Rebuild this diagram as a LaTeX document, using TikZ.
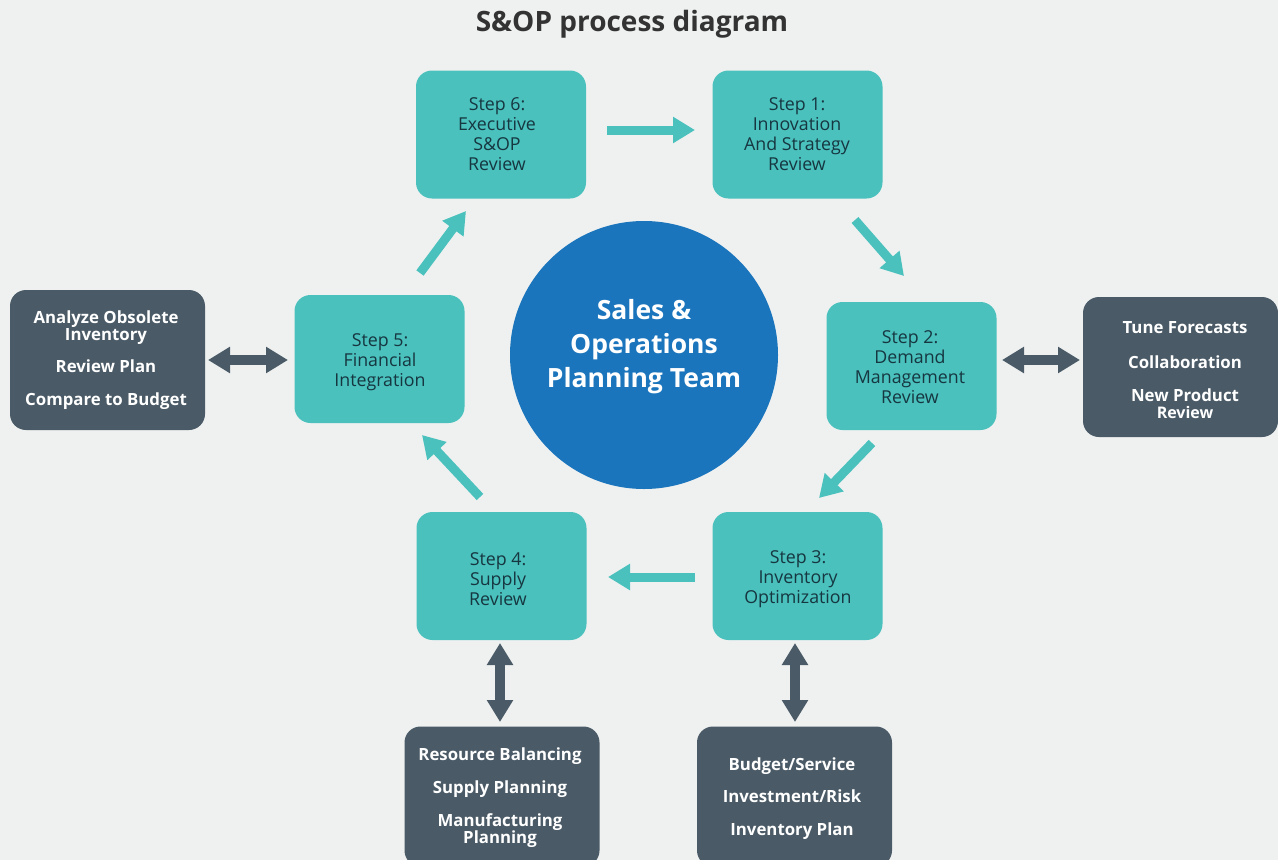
\documentclass[tikz,border=0pt]{standalone}
\usepackage{fontspec}
\setmainfont{Open Sans}
\usetikzlibrary{arrows.meta}
\definecolor{bg}{HTML}{EFF1F1}
\definecolor{teal}{HTML}{4AC1BD}
\definecolor{dark}{HTML}{4A5A66}
\definecolor{blue}{HTML}{1B75BC}
\definecolor{tx}{HTML}{163640}
\definecolor{ttl}{HTML}{333333}
\tikzset{
  stepbox/.style={fill=teal, rounded corners=16pt, minimum width=170pt, minimum height=128pt, inner sep=0pt},
  steptext/.style={text=tx, align=center, inner sep=0pt, font=\fontsize{17.8}{20}\selectfont},
  infobox/.style={fill=dark, rounded corners=16pt, minimum width=195pt, minimum height=140pt, inner sep=0pt},
  infotext/.style={text=white, align=center, inner sep=0pt, font=\bfseries\fontsize{16.8}{17}\selectfont},
  flow/.style={draw=teal, line width=9pt, -{Triangle[length=22pt,width=25pt]}},
  link/.style={draw=dark, line width=10pt, {Triangle[length=22pt,width=25pt]}-{Triangle[length=22pt,width=25pt]}}
}
\begin{document}
\begin{tikzpicture}[x=1pt,y=-1pt]
\fill[bg] (0,0) rectangle (1278,860);
\useasboundingbox (0,0) rectangle (1278,860);
\node[font=\bfseries\fontsize{28}{30}\selectfont, text=ttl] (title) at (632,24) {S\&OP process diagram};
\node[circle, fill=blue, minimum size=268pt, inner sep=0pt] (team) at (644,355) {};
\node[text=white, align=center, inner sep=0pt, font=\bfseries\fontsize{26.5}{34}\selectfont] (teamtxt) at (644,347) {Sales \&\\Operations\\Planning Team};
% step boxes
\node[stepbox] (s6) at (501,134.5) {};
\node[stepbox] (s1) at (797.5,134.5) {};
\node[stepbox] (s2) at (911.5,366) {};
\node[stepbox] (s3) at (797.5,576) {};
\node[stepbox] (s4) at (501.5,576) {};
\node[stepbox] (s5) at (379.5,359) {};
\node[steptext] (t6) at (497,134) {Step 6:\\Executive\\S\&OP\\Review};
\node[steptext] (t1) at (797,134) {Step 1:\\Innovation\\And Strategy\\Review};
\node[steptext] (t2) at (910,367) {Step 2:\\Demand\\Management\\Review};
\node[steptext] (t3) at (798,579) {Step 3:\\Inventory\\Optimization};
\node[steptext] (t4) at (498,579) {Step 4:\\Supply\\Review};
\node[steptext] (t5) at (380,362) {Step 5:\\Financial\\Integration};
% info boxes
\node[infobox] (i5) at (107.5,360) {};
\node[infobox] (i2) at (1180.5,367) {};
\node[infobox] (i4) at (502,796.5) {};
\node[infobox] (i3) at (794.5,796.5) {};
\node[infotext] (u5) at (106,360) {Analyze Obsolete\\Inventory\\[15pt]Review Plan\\[16pt]Compare to Budget};
\node[infotext] (u2) at (1185,370) {Tune Forecasts\\[18pt]Collaboration\\[16pt]New Product\\{\fontsize{16}{16}\selectfont Review}};
\node[infotext] (u4) at (500,798) {Resource Balancing\\[16pt]Supply Planning\\[16pt]Manufacturing\\Planning};
\node[infotext] (u3) at (792,799) {Budget/Service\\[15pt]Investment/Risk\\[16pt]Inventory Plan};
% flow arrows
\coordinate (a61) at (607,130); \coordinate (b61) at (695,130);
\coordinate (a12) at (855,220); \coordinate (b12) at (904,276);
\coordinate (a23) at (872,443); \coordinate (b23) at (819,498);
\coordinate (a34) at (695,577); \coordinate (b34) at (608,577);
\coordinate (a45) at (480,497); \coordinate (b45) at (422,435);
\coordinate (a56) at (420,273); \coordinate (b56) at (466,211);
\draw[flow] (a61) -- (b61);
\draw[flow] (a12) -- (b12);
\draw[flow] (a23) -- (b23);
\draw[flow] (a34) -- (b34);
\draw[flow] (a45) -- (b45);
\draw[flow] (a56) -- (b56);
% links
\coordinate (l5a) at (208,360); \coordinate (l5b) at (288,360);
\draw[link] (l5a) -- (l5b);
\coordinate (l2a) at (1002,360); \coordinate (l2b) at (1080,360);
\draw[link] (l2a) -- (l2b);
\coordinate (l4a) at (500,643); \coordinate (l4b) at (500,722);
\draw[link] (l4a) -- (l4b);
\coordinate (l3a) at (795,643); \coordinate (l3b) at (795,722);
\draw[link] (l3a) -- (l3b);
\end{tikzpicture}
\end{document}
